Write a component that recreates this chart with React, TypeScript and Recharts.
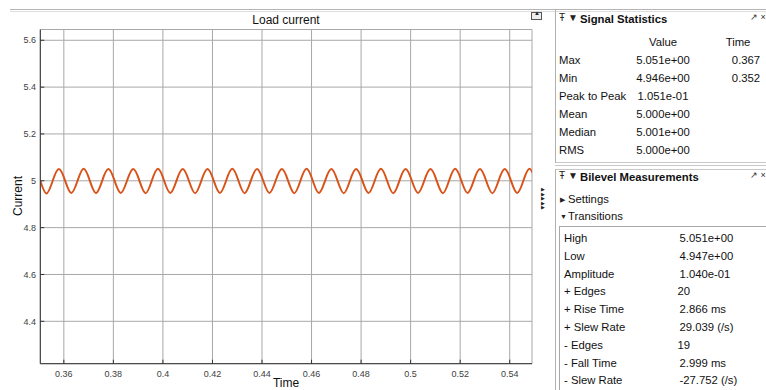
import React from 'react';
import { LineChart, Line, XAxis, YAxis, CartesianGrid } from 'recharts';

// sample times (s) read at crossings, peaks and troughs
const times = [
  0.3505, 0.353, 0.3555, 0.358, 0.3605, 0.363, 0.3655, 0.368,
  0.3705, 0.373, 0.3755, 0.378, 0.3805, 0.383, 0.3855, 0.388,
  0.3905, 0.393, 0.3955, 0.398, 0.4005, 0.403, 0.4055, 0.408,
  0.4105, 0.413, 0.4155, 0.418, 0.4205, 0.423, 0.4255, 0.428,
  0.4305, 0.433, 0.4355, 0.438, 0.4405, 0.443, 0.4455, 0.448,
  0.4505, 0.453, 0.4555, 0.458, 0.4605, 0.463, 0.4655, 0.468,
  0.4705, 0.473, 0.4755, 0.478, 0.4805, 0.483, 0.4855, 0.488,
  0.4905, 0.493, 0.4955, 0.498, 0.5005, 0.503, 0.5055, 0.508,
  0.5105, 0.513, 0.5155, 0.518, 0.5205, 0.523, 0.5255, 0.528,
  0.5305, 0.533, 0.5355, 0.538, 0.5405, 0.543, 0.5455, 0.548,
  0.5505,
];

const current = [
  5.0, 4.946, 5.0, 5.05, 5.001, 4.948, 4.999, 5.051,
  5.0, 4.947, 5.001, 5.05, 5.0, 4.948, 5.0, 5.05,
  5.001, 4.947, 5.0, 5.051, 5.0, 4.948, 5.001, 5.05,
  5.0, 4.947, 5.0, 5.05, 5.001, 4.948, 5.0, 5.051,
  5.0, 4.947, 5.001, 5.05, 5.0, 4.948, 5.0, 5.05,
  5.001, 4.947, 5.0, 5.051, 5.0, 4.948, 5.001, 5.05,
  5.0, 4.947, 5.0, 5.05, 5.001, 4.948, 5.0, 5.051,
  5.0, 4.947, 5.001, 5.05, 5.0, 4.948, 5.0, 5.05,
  5.001, 4.947, 5.0, 5.051, 5.0, 4.948, 5.001, 5.05,
  5.0, 4.947, 5.0, 5.05, 5.001, 4.948, 5.0, 5.051,
  5.0,
];

const xTicks = [0.36, 0.38, 0.4, 0.42, 0.44, 0.46, 0.48, 0.5, 0.52, 0.54];
const yTicks = [4.4, 4.6, 4.8, 5, 5.2, 5.4, 5.6];

const statRows = [
  ['Max', '5.051e+00', '0.367'],
  ['Min', '4.946e+00', '0.352'],
  ['Peak to Peak', '1.051e-01', ''],
  ['Mean', '5.000e+00', ''],
  ['Median', '5.001e+00', ''],
  ['RMS', '5.000e+00', ''],
];

const bilevelRows = [
  ['High', '5.051e+00'],
  ['Low', '4.947e+00'],
  ['Amplitude', '1.040e-01'],
  ['+ Edges', '20'],
  ['+ Rise Time', '2.866 ms'],
  ['+ Slew Rate', '29.039 (/s)'],
  ['- Edges', '19'],
  ['- Fall Time', '2.999 ms'],
  ['- Slew Rate', '-27.752 (/s)'],
];

const data = times.map((t, i) => ({ t, v: current[i] }));

const FONT = '"Liberation Sans", Arial, sans-serif';
const X_DOMAIN = [0.3505, 0.549];
const Y_DOMAIN = [4.219, 5.646];
const frame = '#333333';
const tickStyle = { fontSize: 9, fill: '#404040', fontFamily: FONT };

const abs = (x: number, y: number, extra: React.CSSProperties = {}): React.CSSProperties => ({
  position: 'absolute',
  left: x,
  top: y,
  whiteSpace: 'nowrap',
  ...extra,
});

const PanelHeader = ({ y, title }: { y: number; title: string }) => (
  <>
    <div style={abs(559, y - 8, { fontSize: 10, color: '#222' })}>Ŧ ▼</div>
    <div style={abs(580, y - 7, { fontSize: 11.3, fontWeight: 'bold', color: '#111' })}>{title}</div>
    <div style={abs(750, y - 8, { fontSize: 9, color: '#333' })}>↗ ×</div>
  </>
);

export default function App() {
  return (
    <div
      style={{
        position: 'absolute',
        left: 0,
        top: 0,
        width: 766,
        height: 390,
        overflow: 'hidden',
        background: '#fff',
        fontFamily: FONT,
      }}
    >
      {/* top toolbar line */}
      <div style={abs(10, 9, { width: 756, height: 1, background: '#b4b4b4' })} />
      <div style={abs(10, 11, { width: 756, height: 1, background: '#dedede' })} />

      <div style={abs(0, 0)}>
        <LineChart
          width={556}
          height={390}
          data={data}
          margin={{ top: 29.5, right: 24, bottom: 6.3, left: 0 }}
        >
          <CartesianGrid stroke="#a8a8a8" strokeWidth={1} />
          <XAxis
            dataKey="t"
            type="number"
            domain={X_DOMAIN}
            ticks={xTicks}
            allowDataOverflow
            interval={0}
            height={20}
            tickSize={-4}
            tickMargin={11}
            tick={tickStyle}
            stroke={frame}
            tickLine={{ stroke: frame }}
            axisLine={{ stroke: frame }}
          />
          <XAxis
            xAxisId="top"
            orientation="top"
            dataKey="t"
            type="number"
            domain={X_DOMAIN}
            ticks={xTicks}
            allowDataOverflow
            interval={0}
            height={0}
            tickSize={-4}
            tick={false}
            tickLine={{ stroke: frame }}
            axisLine={{ stroke: frame }}
          />
          <YAxis
            type="number"
            domain={Y_DOMAIN}
            ticks={yTicks}
            allowDataOverflow
            interval={0}
            width={40.3}
            tickSize={-4}
            tickMargin={8.3}
            tick={tickStyle}
            tickLine={{ stroke: frame }}
            axisLine={{ stroke: frame }}
          />
          <YAxis
            yAxisId="right"
            orientation="right"
            type="number"
            domain={Y_DOMAIN}
            ticks={yTicks}
            allowDataOverflow
            interval={0}
            width={0}
            tickSize={-4}
            tick={false}
            tickLine={{ stroke: frame }}
            axisLine={{ stroke: frame }}
          />
          <Line
            dataKey="v"
            type="natural"
            stroke="#d95319"
            strokeWidth={2}
            dot={false}
            isAnimationActive={false}
          />
        </LineChart>
      </div>

      {/* chart texts */}
      <div style={abs(186, 13, { width: 200, textAlign: 'center', fontSize: 12, color: '#111' })}>Load current</div>
      <div style={abs(186, 377, { width: 200, textAlign: 'center', fontSize: 12, lineHeight: '12px', color: '#111' })}>Time</div>
      <div
        style={abs(-32, 189, {
          width: 100,
          textAlign: 'center',
          fontSize: 12,
          color: '#111',
          transform: 'rotate(-90deg)',
        })}
      >
        Current
      </div>

      {/* undock icon */}
      <div style={abs(531, 12, { width: 9, height: 6, border: '1px solid #555', background: '#eee' })}>
        <div style={abs(2, -3, { fontSize: 6, color: '#222' })}>▲</div>
      </div>

      {/* small arrows */}
      <div style={abs(541, 187, { fontSize: 5, lineHeight: '4.6px', color: '#222' })}>
        {['▶', '▶', '▶', '▶', '▶'].map((a, i) => (
          <div key={i}>{a}</div>
        ))}
      </div>

      {/* Signal Statistics panel */}
      <div style={abs(555, 10, { width: 220, height: 152, borderLeft: '1px solid #b0b0b0', borderBottom: '1px solid #c8c8c8' })} />
      <div style={abs(555, 165, { width: 220, height: 1, background: '#c8c8c8' })} />
      <PanelHeader y={20} title="Signal Statistics" />
      <div style={abs(613, 36, { width: 100, textAlign: 'center', fontSize: 11.3, color: '#111' })}>Value</div>
      <div style={abs(688, 36, { width: 100, textAlign: 'center', fontSize: 11.3, color: '#111' })}>Time</div>
      {statRows.map(([label, value, time], i) => {
        const y = 54 + i * 17.9;
        return (
          <React.Fragment key={label}>
            <div style={abs(559, y, { fontSize: 11.3, color: '#111' })}>{label}</div>
            <div style={abs(613, y, { width: 100, textAlign: 'center', fontSize: 11.3, color: '#111' })}>{value}</div>
            {time && (
              <div style={abs(696, y, { width: 100, textAlign: 'center', fontSize: 11.3, color: '#111' })}>{time}</div>
            )}
          </React.Fragment>
        );
      })}

      {/* Bilevel Measurements panel */}
      <div style={abs(555, 169, { width: 220, height: 230, borderLeft: '1px solid #b0b0b0', borderTop: '1px solid #c8c8c8' })} />
      <PanelHeader y={178} title="Bilevel Measurements" />
      <div style={abs(560, 196, { fontSize: 7, color: '#222' })}>▶</div>
      <div style={abs(568, 193, { fontSize: 11.3, color: '#111' })}>Settings</div>
      <div style={abs(560, 213, { fontSize: 7, color: '#222' })}>▼</div>
      <div style={abs(568, 210, { fontSize: 11.3, color: '#111' })}>Transitions</div>
      <div style={abs(559, 226, { width: 220, height: 180, border: '1px solid #a8a8a8' })} />
      {bilevelRows.map(([label, value], i) => {
        const y = 232 + i * 17.8;
        const isCount = value === '20' || value === '19';
        return (
          <React.Fragment key={label}>
            <div style={abs(564, y, { fontSize: 11.3, color: '#111' })}>{label}</div>
            <div style={abs(isCount ? 677.5 : 679.5, y, { fontSize: 11.3, color: '#111' })}>{value}</div>
          </React.Fragment>
        );
      })}
    </div>
  );
}
